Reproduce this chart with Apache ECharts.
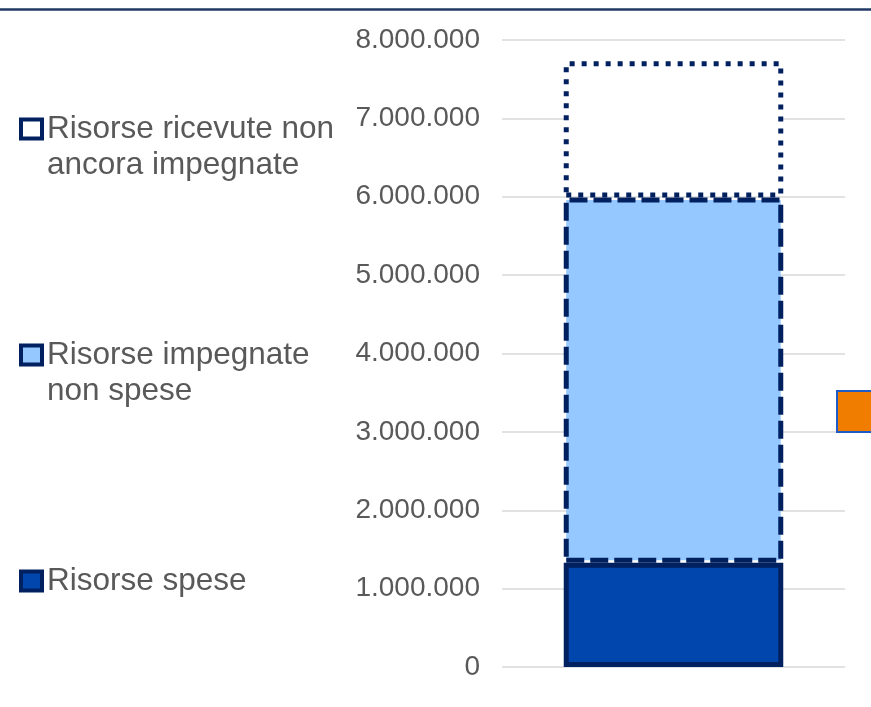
<!DOCTYPE html>
<html>
<head>
<meta charset="utf-8">
<script src="https://cdn.jsdelivr.net/npm/echarts@6/dist/echarts.min.js"></script>
<style>
html,body{margin:0;padding:0;background:#fff;}
#chart{width:871px;height:707px;}
</style>
</head>
<body>
<div id="chart"></div>
<script>
const categories = ['Totale'];
const seriesNames = ['Risorse spese', 'Risorse impegnate non spese', 'Risorse ricevute non ancora impegnate'];
const speseValues = [1330000];
const impegnateValues = [4660000];
const ricevuteValues = [1740000];
const yTicks = [0, 1000000, 2000000, 3000000, 4000000, 5000000, 6000000, 7000000, 8000000];

const legendLabels = {
  'Risorse spese': 'Risorse spese',
  'Risorse impegnate non spese': '\nRisorse impegnate\nnon spese',
  'Risorse ricevute non ancora impegnate': '\nRisorse ricevute non\nancora impegnate'
};

function fmt(v) {
  return String(Math.round(v)).replace(/\B(?=(\d{3})+(?!\d))/g, '.');
}

const FONT = '"Liberation Sans", Arial, sans-serif';
const NAVY = '#002060';
const TXT = '#595959';

const chart = echarts.init(document.getElementById('chart'), null, {renderer: 'canvas'});

function legendFor(name, top, style) {
  return {
    data: [{name: name, icon: 'rect', itemStyle: style}],
    left: 19, top: top, padding: 0,
    orient: 'vertical',
    itemWidth: 21, itemHeight: 19,
    selectedMode: false,
    formatter: n => legendLabels[n],
    textStyle: {color: TXT, fontSize: 31.5, fontFamily: FONT, lineHeight: 36}
  };
}

chart.setOption({
  animation: false,
  backgroundColor: '#fff',
  grid: {left: 502, right: 26, top: 40, bottom: 40, containLabel: false},
  xAxis: {
    type: 'category', data: categories,
    axisLine: {show: false}, axisTick: {show: false}, axisLabel: {show: false},
    splitLine: {show: false}
  },
  yAxis: {
    type: 'value', min: yTicks[0], max: yTicks[yTicks.length - 1], interval: 1000000,
    axisLine: {show: false}, axisTick: {show: false},
    axisLabel: {formatter: fmt, color: TXT, fontSize: 28, fontFamily: FONT, margin: 22},
    splitLine: {lineStyle: {color: '#D9D9D9', width: 1.5}}
  },
  legend: [
    legendFor(seriesNames[2], 75, {color: '#ffffff', borderColor: NAVY, borderWidth: 4, borderType: 'solid'}),
    legendFor(seriesNames[1], 301, {color: '#95C8FF', borderColor: NAVY, borderWidth: 4, borderType: 'solid'}),
    legendFor(seriesNames[0], 563, {color: '#0046AD', borderColor: NAVY, borderWidth: 4, borderType: 'solid'})
  ],
  series: [
    {
      name: seriesNames[0], type: 'bar', stack: 's', data: speseValues, barWidth: '64%',
      itemStyle: {color: '#0046AD', borderColor: NAVY, borderWidth: 5, borderType: 'solid'}
    },
    {
      name: seriesNames[1], type: 'bar', stack: 's', data: impegnateValues, barWidth: '64%',
      itemStyle: {color: '#95C8FF', borderColor: NAVY, borderWidth: 5, borderType: [18, 6]}
    },
    {
      name: seriesNames[2], type: 'bar', stack: 's', data: ricevuteValues, barWidth: '64%',
      itemStyle: {color: '#ffffff', borderColor: NAVY, borderWidth: 5, borderType: [5, 7]}
    }
  ],
  graphic: [
    {type: 'line', shape: {x1: 0, y1: 9.5, x2: 871, y2: 9.5}, style: {stroke: '#1F3864', lineWidth: 2.5}, z: 10},
    {type: 'rect', shape: {x: 837, y: 391, width: 40, height: 41}, style: {fill: '#F07C00', stroke: '#1E5BC6', lineWidth: 2}, z: 10}
  ]
});
</script>
</body>
</html>
